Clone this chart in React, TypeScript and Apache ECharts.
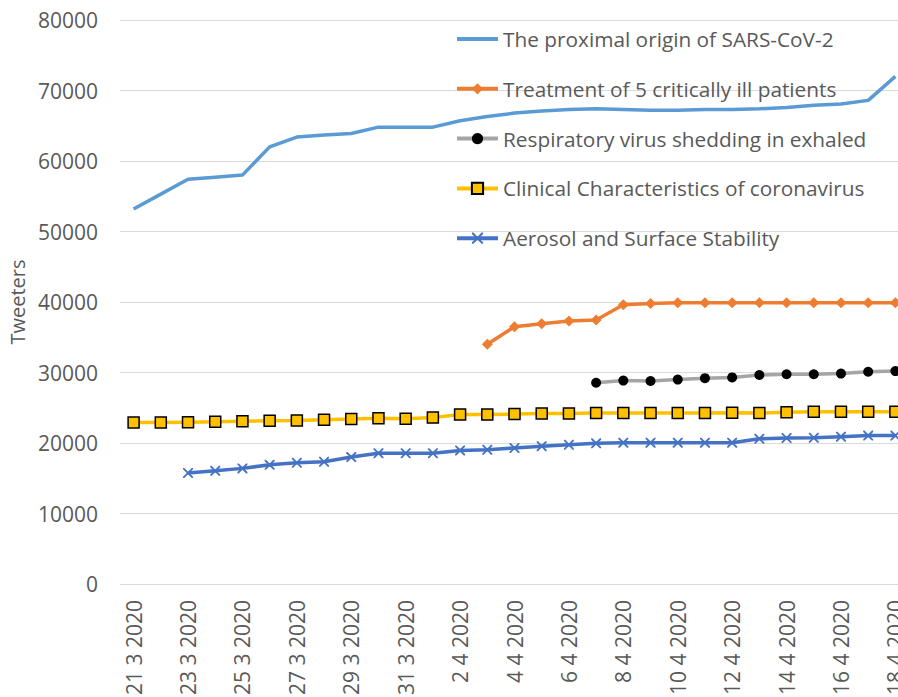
import React, { useEffect, useRef } from "react";
import * as echarts from "echarts";

const dates: string[] = [
  "21 3 2020", "22 3 2020", "23 3 2020", "24 3 2020", "25 3 2020", "26 3 2020", "27 3 2020",
  "28 3 2020", "29 3 2020", "30 3 2020", "31 3 2020", "1 4 2020", "2 4 2020", "3 4 2020",
  "4 4 2020", "5 4 2020", "6 4 2020", "7 4 2020", "8 4 2020", "9 4 2020", "10 4 2020",
  "11 4 2020", "12 4 2020", "13 4 2020", "14 4 2020", "15 4 2020", "16 4 2020", "17 4 2020",
  "18 4 2020",
];

const proximalOrigin: (number | null)[] = [
  53200, 55300, 57400, 57700, 58000, 62000, 63400, 63700, 63900, 64800, 64800, 64800, 65700,
  66300, 66800, 67100, 67300, 67400, 67300, 67200, 67200, 67300, 67300, 67400, 67600, 67900,
  68100, 68600, 72000,
];

const treatment: (number | null)[] = [
  null, null, null, null, null, null, null, null, null, null, null, null, null,
  34000, 36500, 36900, 37300, 37450, 39600, 39800, 39900, 39900, 39900, 39900, 39900, 39900,
  39900, 39900, 39900,
];

const respiratory: (number | null)[] = [
  null, null, null, null, null, null, null, null, null, null, null, null, null, null, null, null,
  null, 28550, 28850, 28800, 29000, 29200, 29300, 29650, 29750, 29750, 29850, 30100, 30200,
];

const clinical: (number | null)[] = [
  22900, 22900, 22950, 23000, 23100, 23150, 23200, 23300, 23400, 23500, 23450, 23600, 24050,
  24050, 24100, 24200, 24200, 24250, 24250, 24250, 24250, 24250, 24300, 24250, 24350, 24450,
  24450, 24450, 24450,
];

const aerosol: (number | null)[] = [
  null, null, 15750, 16050, 16400, 16900, 17200, 17350, 18000, 18550, 18550, 18550, 18950,
  19050, 19300, 19550, 19750, 19950, 20050, 20050, 20050, 20050, 20050, 20600, 20700, 20750,
  20900, 21050, 21050,
];

const seriesNames: string[] = [
  "The proximal origin of SARS-CoV-2",
  "Treatment of 5 critically ill patients",
  "Respiratory virus shedding in exhaled",
  "Clinical Characteristics of coronavirus",
  "Aerosol and Surface Stability",
];

const FONT = "'Open Sans', sans-serif";
const crossPath =
  "path://M0,0 L1.3,0 L5,3.7 L8.7,0 L10,0 L10,1.3 L6.3,5 L10,8.7 L10,10 L8.7,10 L5,6.3 L1.3,10 L0,10 L0,8.7 L3.7,5 L0,1.3 Z";

export default function App() {
  const ref = useRef<HTMLDivElement>(null);
  useEffect(() => {
    if (!ref.current) return;
    const chart = echarts.init(ref.current, undefined, { renderer: "svg" });
    chart.setOption({
      animation: false,
      backgroundColor: "#ffffff",
      grid: { left: 120, right: -11, top: 20, bottom: 113, outerBoundsMode: "none", containLabel: false },
      legend: {
        orient: "vertical",
        left: 450,
        top: 23.5,
        itemWidth: 41,
        itemHeight: 14,
        itemGap: 28.8,
        lineStyle: { width: 4 },
        textStyle: { fontSize: 20.8, color: "#595959", fontFamily: FONT },
        data: [
          { name: seriesNames[0], itemStyle: { opacity: 0 } },
          seriesNames[1],
          seriesNames[2],
          seriesNames[3],
          seriesNames[4],
        ],
      },
      xAxis: {
        type: "category",
        data: dates,
        boundaryGap: true,
        axisLine: { show: true, lineStyle: { color: "#D9D9D9", width: 1 } },
        axisTick: { show: false },
        axisLabel: {
          rotate: 90,
          interval: 1,
          margin: 16,
          fontSize: 21,
          color: "#595959",
          fontFamily: FONT,
        },
      },
      yAxis: {
        type: "value",
        min: 0,
        max: 80000,
        interval: 10000,
        name: "Tweeters",
        nameLocation: "middle",
        nameGap: 92,
        nameRotate: 90,
        nameTextStyle: { fontSize: 20, color: "#595959", fontFamily: FONT },
        axisLine: { show: false },
        axisTick: { show: false },
        axisLabel: {
          fontSize: 21,
          color: "#595959",
          fontFamily: FONT,
          margin: 22,
          formatter: (v: number) => String(v),
        },
        splitLine: { lineStyle: { color: "#D9D9D9", width: 1 } },
      },
      series: [
        {
          name: seriesNames[0],
          type: "line",
          data: proximalOrigin,
          showSymbol: false,
          symbol: "none",
          lineStyle: { color: "#5B9BD5", width: 3.5 },
          itemStyle: { color: "#5B9BD5" },
        },
        {
          name: seriesNames[1],
          type: "line",
          data: treatment,
          symbol: "diamond",
          symbolSize: 11,
          showAllSymbol: true,
          lineStyle: { color: "#ED7D31", width: 3.5 },
          itemStyle: { color: "#ED7D31" },
        },
        {
          name: seriesNames[2],
          type: "line",
          data: respiratory,
          symbol: "circle",
          symbolSize: 10,
          showAllSymbol: true,
          lineStyle: { color: "#A5A5A5", width: 3.5 },
          itemStyle: { color: "#000000" },
        },
        {
          name: seriesNames[3],
          type: "line",
          data: clinical,
          symbol: "rect",
          symbolSize: 11,
          showAllSymbol: true,
          lineStyle: { color: "#FFC000", width: 3.5 },
          itemStyle: { color: "#FFC000", borderColor: "#000000", borderWidth: 1.5 },
        },
        {
          name: seriesNames[4],
          type: "line",
          data: aerosol,
          symbol: crossPath,
          symbolSize: 10,
          showAllSymbol: true,
          lineStyle: { color: "#4472C4", width: 3.5 },
          itemStyle: { color: "#4472C4" },
        },
      ],
    });
    return () => chart.dispose();
  }, []);
  return (
    <div
      ref={ref}
      style={{ position: "fixed", left: 0, top: 0, width: 898, height: 697, background: "#fff" }}
    />
  );
}
